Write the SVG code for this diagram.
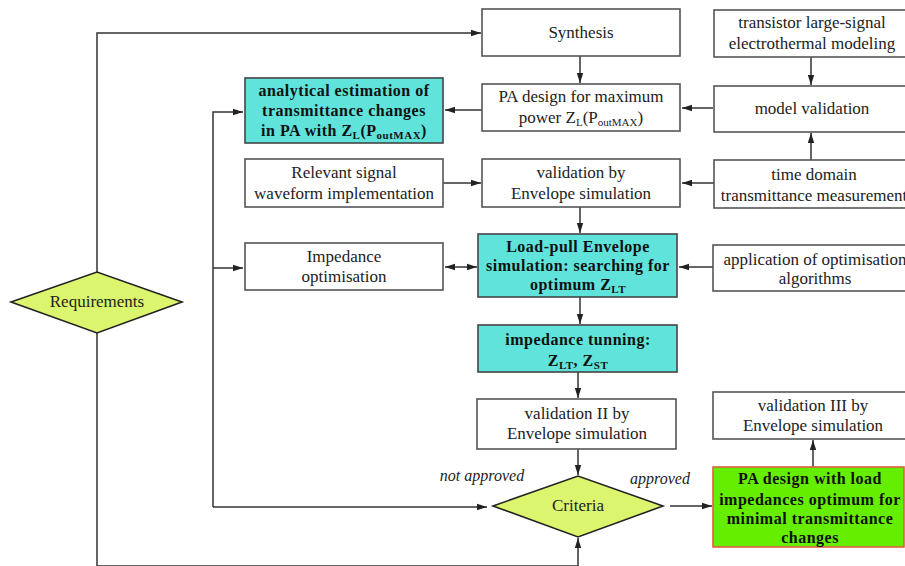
<svg xmlns="http://www.w3.org/2000/svg" width="905" height="566" viewBox="0 0 905 566" font-family="'Liberation Serif', 'DejaVu Serif', 'Times New Roman', serif">
<defs>
<marker id="ah" viewBox="0 0 10 8" refX="10" refY="4" markerWidth="10" markerHeight="8" markerUnits="userSpaceOnUse" orient="auto-start-reverse">
<path d="M0,0.8 L10,4 L0,7.2 Z" fill="#222"/>
</marker>
<style>
.box{fill:#fff;stroke:#555;stroke-width:1.6}
.cyan{fill:#60e3da;stroke:#444;stroke-width:1.6}
.green{fill:#66ee00;stroke:#e0603c;stroke-width:1.6}
.dia{fill:#dcf56f;stroke:#222;stroke-width:1.6}
.c{fill:none;stroke:#333;stroke-width:1.5}
.a{marker-end:url(#ah)}
text{font-family:'Liberation Serif', 'DejaVu Serif', serif;font-size:17px;fill:#222;text-anchor:middle}
.b{font-weight:bold;font-size:16px;letter-spacing:0.5px;fill:#111}
.i{font-style:italic;font-size:16px}
.s{font-size:11px}
</style>
</defs>
<g id="connectors">
<path class="c a" d="M97,272 V33 H481"/>
<path class="c a" d="M97,333 V566 H578 V538"/>
<path class="c a" d="M213,507 V112 H243"/>
<path class="c a" d="M213,268 H243"/>
<path class="c a" d="M213,507 H487"/>
<path class="c a" d="M580,56 V83"/>
<path class="c a" d="M482,110 H445"/>
<path class="c a" d="M713,108 H682"/>
<path class="c a" d="M811,57 V85"/>
<path class="c a" d="M811,160 V133"/>
<path class="c a" d="M714,183 H682"/>
<path class="c a" d="M443,183 H481"/>
<path class="c a" d="M580,207 V233"/>
<path class="c a" d="M445,267 H477" style="marker-start:url(#ah)"/>
<path class="c a" d="M713,267 H679"/>
<path class="c a" d="M580,297 V324"/>
<path class="c a" d="M578,372 V398"/>
<path class="c a" d="M578,449 V475"/>
<path class="c a" d="M670,506 H712"/>
<path class="c a" d="M813,467 V440"/>
</g>
<g id="synthesis">
<rect class="box" x="482" y="9" width="198" height="47"/>
<text x="581" y="38">Synthesis</text>
</g>
<g id="transistor-modeling">
<rect class="box" x="714" y="10" width="200" height="47"/>
<text x="812" y="28">transistor large-signal</text>
<text x="812" y="49">electrothermal modeling</text>
</g>
<g id="pa-design-max">
<rect class="box" x="482" y="84" width="198" height="47"/>
<text x="581" y="102">PA design for maximum</text>
<text x="581" y="123">power Z<tspan class="s" dy="3">L</tspan><tspan dy="-3">(P</tspan><tspan class="s" dy="3">outMAX</tspan><tspan dy="-3">)</tspan></text>
</g>
<g id="model-validation">
<rect class="box" x="714" y="86" width="200" height="46"/>
<text x="812" y="114">model validation</text>
</g>
<g id="analytical-estimation">
<rect class="cyan" x="245" y="78" width="198" height="65"/>
<text class="b" x="344" y="96">analytical estimation of</text>
<text class="b" x="344" y="116">transmittance changes</text>
<text class="b" x="344" y="136">in PA with Z<tspan class="s" dy="3">L</tspan><tspan dy="-3">(P</tspan><tspan class="s" dy="3">outMAX</tspan><tspan dy="-3">)</tspan></text>
</g>
<g id="relevant-signal">
<rect class="box" x="245" y="159" width="198" height="48"/>
<text x="344" y="178">Relevant signal</text>
<text x="344" y="199">waveform implementation</text>
</g>
<g id="validation-envelope">
<rect class="box" x="482" y="159" width="198" height="48"/>
<text x="581" y="178">validation by</text>
<text x="581" y="199">Envelope simulation</text>
</g>
<g id="time-domain">
<rect class="box" x="714" y="160" width="200" height="48"/>
<text x="814" y="180">time domain</text>
<text x="814" y="201">transmittance measurement</text>
</g>
<g id="impedance-optimisation">
<rect class="box" x="245" y="243" width="198" height="47"/>
<text x="344" y="262">Impedance</text>
<text x="344" y="282">optimisation</text>
</g>
<g id="load-pull">
<rect class="cyan" x="478" y="234" width="199" height="63"/>
<text class="b" x="578" y="252">Load-pull Envelope</text>
<text class="b" x="578" y="271">simulation: searching for</text>
<text class="b" x="578" y="290">optimum Z<tspan class="s" dy="3">LT</tspan></text>
</g>
<g id="optimisation-algorithms">
<rect class="box" x="713" y="245" width="200" height="46"/>
<text x="815" y="265">application of optimisation</text>
<text x="815" y="284">algorithms</text>
</g>
<g id="impedance-tunning">
<rect class="cyan" x="478" y="325" width="199" height="47"/>
<text class="b" x="578" y="345">impedance tunning:</text>
<text class="b" x="578" y="366">Z<tspan class="s" dy="3">LT</tspan><tspan dy="-3">, Z</tspan><tspan class="s" dy="3">ST</tspan></text>
</g>
<g id="validation-ii">
<rect class="box" x="477" y="399" width="199" height="50"/>
<text x="577" y="419">validation II by</text>
<text x="577" y="439">Envelope simulation</text>
</g>
<g id="validation-iii">
<rect class="box" x="713" y="392" width="200" height="47"/>
<text x="813" y="411">validation III by</text>
<text x="813" y="431">Envelope simulation</text>
</g>
<g id="requirements">
<polygon class="dia" points="11,302 97,272 182,302 97,333"/>
<text x="97" y="307">Requirements</text>
</g>
<g id="criteria">
<polygon class="dia" points="493,506 578,476 663,506 578,537"/>
<text x="578" y="511">Criteria</text>
</g>
<g id="pa-design-optimum">
<rect class="green" x="713" y="467" width="191" height="80"/>
<text class="b" x="810" y="484">PA design with load</text>
<text class="b" x="810" y="505">impedances optimum for</text>
<text class="b" x="810" y="524">minimal transmittance</text>
<text class="b" x="810" y="543">changes</text>
</g>
<g id="labels">
<text class="i" x="482" y="481">not approved</text>
<text class="i" x="660" y="484">approved</text>
</g>
</svg>
